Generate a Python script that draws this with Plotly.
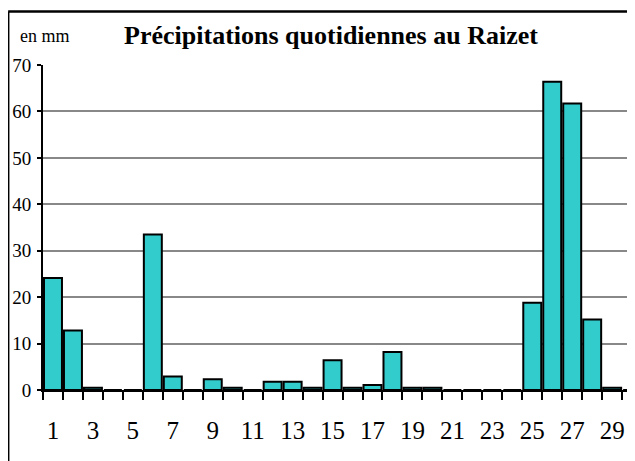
import plotly.graph_objects as go

days = [str(d) for d in range(1, 31)]
rain_mm = [24.1, 12.8, 0.5, 0, 0, 33.5, 2.9, 0, 2.3, 0.5,
           0, 1.8, 1.8, 0.5, 6.4, 0.5, 1.1, 8.2, 0.5, 0.5,
           0, 0, 0, 0, 18.8, 66.4, 61.7, 15.2, 0.5, 0]
tick_text = [d if int(d) % 2 == 1 else "" for d in days]
title_text = "Précipitations quotidiennes au Raizet"
unit_text = "en mm"

SERIF = "Times New Roman, Liberation Serif, serif"

# page has an 8px body margin: work in figure pixel coordinates
OFF = 8
W, H = 635 - OFF, 461 - OFF
L = 43.3 - OFF
T = 65 - OFF
B = H - (390 - OFF)
plot_w = W - L
plot_h = H - T - B
cat_w = 19.96

fig = go.Figure(go.Bar(
    x=days, y=rain_mm,
    marker=dict(color="#33CCCC", line=dict(color="black", width=2)),
))

def px_to_paper_x(px):
    return (px - OFF - L) / plot_w

def px_to_paper_y(py):
    return (H - B - (py - OFF)) / plot_h

bx = px_to_paper_x(8.5)
by = px_to_paper_y(11.5)
fig.add_shape(type="line", xref="paper", yref="paper",
              x0=bx, x1=bx, y0=px_to_paper_y(470), y1=by,
              line=dict(color="black", width=2.5))
fig.add_shape(type="line", xref="paper", yref="paper",
              x0=bx, x1=px_to_paper_x(650), y0=by, y1=by,
              line=dict(color="black", width=2.5))

fig.add_annotation(text=unit_text, xref="paper", yref="paper",
                   x=px_to_paper_x(45), y=px_to_paper_y(36),
                   xanchor="center", yanchor="middle", showarrow=False,
                   font=dict(family=SERIF, size=18, color="black"))

fig.update_layout(
    width=W, height=H,
    margin=dict(l=L, r=0, t=T, b=B, autoexpand=False),
    paper_bgcolor="white", plot_bgcolor="white",
    bargap=0.1,
    showlegend=False,
    title=dict(text=title_text, x=(331 - OFF) / W, xanchor="center",
               y=1 - (35 - OFF) / H, yanchor="middle", xref="container",
               font=dict(family=SERIF, size=26, color="black", weight="bold")),
    xaxis=dict(type="category", range=[-0.5, -0.5 + plot_w / cat_w],
               tickvals=days, ticktext=tick_text, tickson="boundaries",
               tickangle=0, automargin=False,
               ticks="outside", ticklen=8, tickwidth=1.5, tickcolor="black",
               showline=True, linecolor="black", linewidth=2,
               showgrid=False, ticklabelstandoff=17,
               tickfont=dict(family=SERIF, size=25, color="black")),
    yaxis=dict(range=[0, 70], dtick=10, ticks="outside", ticklen=4, tickwidth=1.5,
               tickcolor="black", showline=True, linecolor="black", linewidth=2,
               showgrid=True, gridcolor="#888888", gridwidth=2, zeroline=False,
               ticklabelstandoff=2, automargin=False,
               tickfont=dict(family=SERIF, size=19, color="black")),
)

fig.write_html("out.html")
